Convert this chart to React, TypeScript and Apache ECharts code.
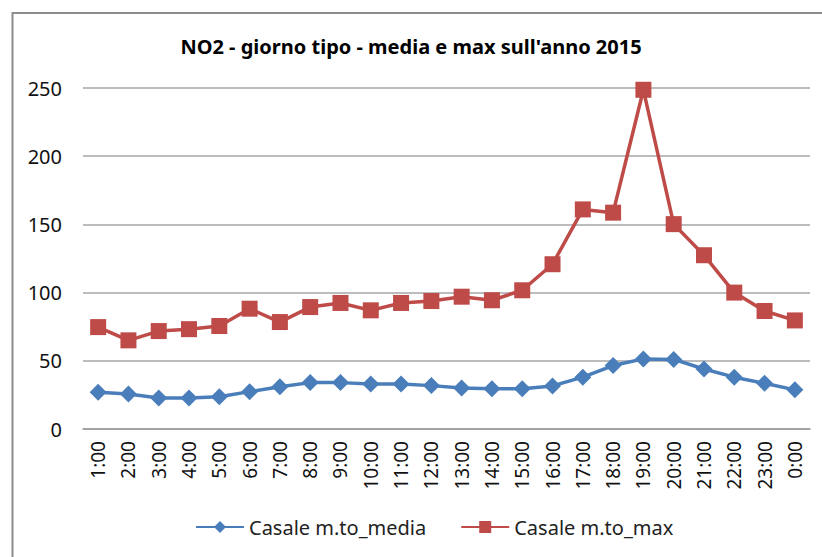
import React, { useEffect, useRef } from "react";
import * as echarts from "echarts";

const hours = ["1:00","2:00","3:00","4:00","5:00","6:00","7:00","8:00","9:00","10:00","11:00","12:00","13:00","14:00","15:00","16:00","17:00","18:00","19:00","20:00","21:00","22:00","23:00","0:00"];
const mediaValues = [26.9,25.7,22.8,22.8,23.7,27.4,31,34,34,33,33,31.8,30,29.5,29.5,31.6,38,46.5,51.4,51,44,38,33.5,28.7];
const maxValues = [74.7,65,71.8,73.2,75.5,88.2,78.4,89.4,92.4,87,92.4,93.8,97,94.4,101.7,120.8,161,158.6,248.7,150.2,127.4,100,86.5,79.6];
const yTicks = [0, 50, 100, 150, 200, 250];
const seriesNames = ["Casale m.to_media", "Casale m.to_max"];
const titleText = "NO2 - giorno tipo - media e max sull'anno 2015";

const FONT = "'Noto Sans', sans-serif";

export default function App() {
  const ref = useRef<HTMLDivElement>(null);
  useEffect(() => {
    if (!ref.current) return;
    const chart = echarts.init(ref.current, undefined, { renderer: "svg" });
    chart.setOption({
      animation: false,
      backgroundColor: "#ffffff",
      graphic: [
        {
          type: "rect",
          shape: { x: 12.5, y: 13, width: 830, height: 560 },
          style: { fill: "none", stroke: "#8c8c8c", lineWidth: 2 },
          silent: true,
        },
      ],
      title: {
        text: titleText,
        left: "center",
        top: 31,
        textStyle: { fontFamily: FONT, fontSize: 20, fontWeight: "bold", color: "#000" },
      },
      legend: {
        bottom: 15,
        left: 190,
        itemWidth: 48,
        itemHeight: 15,
        itemGap: 34,
        textStyle: { fontFamily: FONT, fontSize: 20, color: "#222" },
        data: seriesNames,
      },
      grid: { left: 83, right: 12, top: 88, bottom: 128, containLabel: false },
      xAxis: {
        type: "category",
        data: hours,
        boundaryGap: true,
        axisLine: { show: true, lineStyle: { color: "#9a9a9a", width: 1.5 } },
        axisTick: { show: false },
        axisLabel: {
          rotate: 90,
          interval: 0,
          margin: 12,
          fontFamily: FONT,
          fontSize: 19,
          color: "#111",
        },
      },
      yAxis: {
        type: "value",
        min: yTicks[0],
        max: yTicks[yTicks.length - 1],
        interval: 50,
        axisLine: { show: false },
        axisTick: { show: false },
        axisLabel: { fontFamily: FONT, fontSize: 20, color: "#111", margin: 21 },
        splitLine: { lineStyle: { color: "#a6a6a6", width: 1.5 } },
      },
      series: [
        {
          name: seriesNames[0],
          type: "line",
          data: mediaValues,
          symbol: "diamond",
          symbolSize: 17,
          lineStyle: { color: "#4a7ebb", width: 3.5 },
          itemStyle: { color: "#4a7ebb" },
        },
        {
          name: seriesNames[1],
          type: "line",
          data: maxValues,
          symbol: "rect",
          symbolSize: 16,
          lineStyle: { color: "#be4b48", width: 3.5 },
          itemStyle: { color: "#be4b48" },
        },
      ],
    });
    return () => chart.dispose();
  }, []);
  return (
    <div
      ref={ref}
      style={{ position: "fixed", left: 0, top: 0, width: 822, height: 557 }}
    />
  );
}
